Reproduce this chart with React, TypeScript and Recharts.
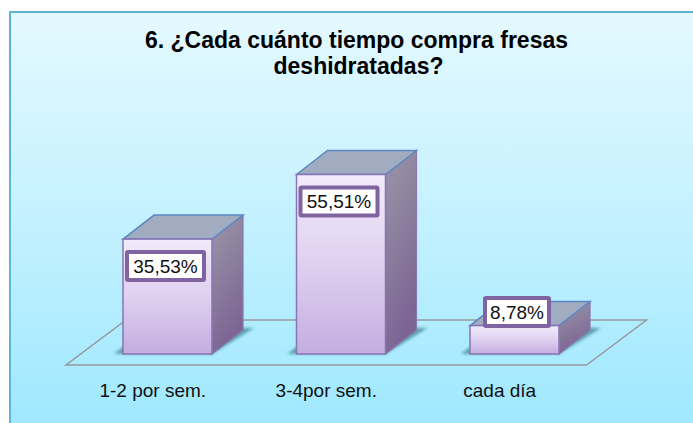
import { BarChart, Bar, XAxis, YAxis, LabelList, usePlotArea } from 'recharts';

const categories = ['1-2 por sem.', '3-4por sem.', 'cada día'];
const values = [35.53, 55.51, 8.78];
const titleLines = ['6. ¿Cada cuánto tiempo compra fresas', 'deshidratadas?'];

const chartData = categories.map((name, i) => ({ name, value: values[i] }));

const formatValue = (v: number) => `${v.toFixed(2).replace('.', ',')}%`;

// profundidad del efecto 3D
const DEPTH_X = 31;
const DEPTH_Y = 24;

const FONT = '"Liberation Sans", Arial, sans-serif';

// el "suelo" del grafico, sale del area de trazado
function Floor() {
  const plot = usePlotArea();
  if (!plot) return null;
  const left = plot.x;
  const right = plot.x + plot.width;
  const base = plot.y + plot.height;
  const points = [
    [left - 15, base + 11],
    [right - 15, base + 11],
    [right + 45, base - 34],
    [left + 45, base - 34],
  ]
    .map((p) => p.join(','))
    .join(' ');
  return <polygon points={points} fill="none" stroke="#989a9c" strokeWidth={1.5} />;
}

function Box3D(props: any) {
  const { x, y, width, height } = props;
  const r = x + width;
  const b = y + height;
  const poly = (pts: number[][]) => pts.map((p) => p.join(',')).join(' ');
  return (
    <g>
      <polygon
        points={poly([
          [x - 9, b],
          [x, b - 7],
          [r, b - 26],
          [r + DEPTH_X + 11, b - 26],
          [r, b],
        ])}
        fill="#3f8790"
        opacity={0.75}
        filter="url(#softShadow)"
      />
      <polygon
        points={poly([
          [r, y],
          [r + DEPTH_X, y - DEPTH_Y],
          [r + DEPTH_X, b - DEPTH_Y],
          [r, b],
        ])}
        fill="url(#sideFace)"
        stroke="#8a76b0"
        strokeWidth={1.2}
      />
      <polygon
        points={poly([
          [x, y],
          [x + DEPTH_X, y - DEPTH_Y],
          [r + DEPTH_X, y - DEPTH_Y],
          [r, y],
        ])}
        fill="#a2acc0"
        stroke="#5a88c4"
        strokeWidth={1.5}
      />
      <rect x={x} y={y} width={width} height={height} fill="url(#frontFace)" stroke="#8a74b4" strokeWidth={1.5} />
    </g>
  );
}

function ValueLabel(props: any) {
  const { x, y, width, height, value } = props;
  const text = formatValue(value);
  const boxW = text.length * 13 + 3;
  const boxH = 32;
  // la barra baja lleva la etiqueta encima de la cara superior
  const short = height < 40;
  const cx = x + width / 2 + (short ? 2.5 : -2);
  const cy = short ? y - 13.5 : y + 27;
  return (
    <g>
      <rect
        x={cx - boxW / 2 + 2}
        y={cy - boxH / 2 + 2}
        width={boxW - 4}
        height={boxH - 4}
        rx={1}
        fill="#ffffff"
        stroke="#8064a2"
        strokeWidth={4}
      />
      <text x={cx} y={cy + 6.5} textAnchor="middle" fontSize={19} fontFamily={FONT} fill="#111">
        {text}
      </text>
    </g>
  );
}

export default function App() {
  return (
    <div style={{ position: 'absolute', left: 0, top: 0, width: 693, height: 423, overflow: 'hidden', background: '#fff' }}>
      <div
        style={{
          position: 'absolute',
          left: 9,
          top: 11,
          width: 684,
          height: 412,
          boxSizing: 'border-box',
          borderLeft: '2px solid #5fb4d2',
          borderTop: '2px solid #5fb4d2',
          background: 'linear-gradient(180deg, #e4f9ff 0%, #c4f1ff 50%, #9fe8ff 100%)',
        }}
      />
      <div style={{ position: 'absolute', left: 0, top: 0 }}>
        <BarChart
          width={693}
          height={423}
          data={chartData}
          margin={{ top: 160, right: 91.5, bottom: 39, left: 81 }}
        >
          <defs>
            <linearGradient id="frontFace" x1="0" y1="0" x2="0" y2="1">
              <stop offset="0%" stopColor="#f2ebfb" />
              <stop offset="50%" stopColor="#dfd0f0" />
              <stop offset="100%" stopColor="#c2ade0" />
            </linearGradient>
            <linearGradient id="sideFace" x1="0" y1="0" x2="0.3" y2="1">
              <stop offset="0%" stopColor="#9a97a6" />
              <stop offset="100%" stopColor="#7c6494" />
            </linearGradient>
            <filter id="softShadow" x="-20%" y="-20%" width="140%" height="140%">
              <feGaussianBlur stdDeviation="1.5" />
            </filter>
          </defs>
          {titleLines.map((line, i) => (
            <text
              key={line}
              x={356.5 + i * 2}
              y={48 + i * 26}
              textAnchor="middle"
              fontSize={23}
              fontWeight="bold"
              fontFamily={FONT}
              fill="#000"
            >
              {line}
            </text>
          ))}
          <Floor />
          <XAxis
            dataKey="name"
            height={30}
            axisLine={false}
            tickLine={false}
            interval={0}
            tickMargin={0}
            tick={{ fontSize: 19, fontFamily: FONT, fill: '#111', dx: -15, dy: 24 }}
          />
          <YAxis hide domain={[0, 60]} />
          <Bar dataKey="value" barSize={89} shape={<Box3D />} isAnimationActive={false}>
            <LabelList dataKey="value" content={<ValueLabel />} />
          </Bar>
        </BarChart>
      </div>
    </div>
  );
}
